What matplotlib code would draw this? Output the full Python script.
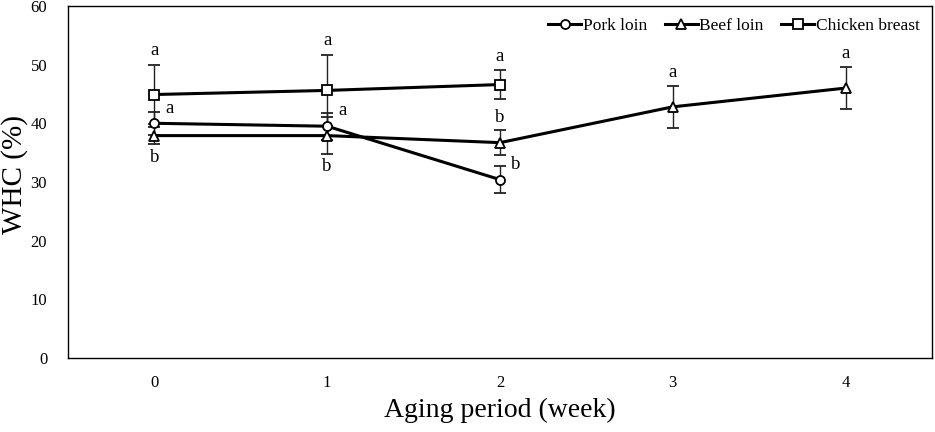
import numpy as np
import matplotlib.pyplot as plt
from matplotlib.lines import Line2D

plt.rcParams["font.family"] = "Liberation Serif"

weeks_pork = [0, 1, 2]
pork = [40.0, 39.5, 30.4]
pork_sd = [2.0, 2.3, 2.3]
pork_letters = ["a", "a", "b"]

weeks_beef = [0, 1, 2, 3, 4]
beef = [37.9, 37.9, 36.7, 42.8, 46.0]
beef_sd = [1.5, 3.1, 2.1, 3.6, 3.6]
beef_letters = ["b", "b", "b", "a", "a"]

weeks_chicken = [0, 1, 2]
chicken = [44.9, 45.6, 46.6]
chicken_sd = [5.0, 6.1, 2.4]
chicken_letters = ["a", "a", "a"]

fig = plt.figure(figsize=(9.35, 4.32), dpi=100)
ax = fig.add_axes([0.0727, 0.1713, 0.924, 0.815])

mkw = dict(color="black", linewidth=2.2, markerfacecolor="white", markeredgecolor="black",
           markeredgewidth=1.3, markersize=6.5)
ekw = dict(ecolor="#222222", elinewidth=1.0, capsize=4, capthick=1.0)
ax.errorbar(weeks_pork, pork, yerr=pork_sd, marker="o", **mkw, **ekw)
ax.errorbar(weeks_beef, beef, yerr=beef_sd, marker="^", **mkw, **ekw)
ax.errorbar(weeks_chicken, chicken, yerr=chicken_sd, marker="s", **mkw, **ekw)

# significance letters
fs = 13.5
for x, y, s, l in zip(weeks_chicken, chicken, chicken_sd, chicken_letters):
    ax.text(x, y + s + 1.0, l, ha="center", va="bottom", fontsize=fs)
for x, y, l in zip(weeks_pork, pork, pork_letters):
    ax.text(x + 0.09, y + 2.6, l, ha="center", va="center", fontsize=fs)
for x, y, s, l in zip(weeks_beef, beef, beef_sd, beef_letters):
    if x < 2:
        ax.text(x, y - s - 0.8, l, ha="center", va="top", fontsize=fs)
    else:
        ax.text(x, y + s + 0.8, l, ha="center", va="bottom", fontsize=fs)

ax.set_xlim(-0.5, 4.5)
ax.set_ylim(0, 60)
ax.set_xticks([0, 1, 2, 3, 4])
ax.set_yticks(np.arange(0, 61, 10))
ax.tick_params(length=0, labelsize=12)
ax.tick_params(axis="x", pad=12)
ax.tick_params(axis="y", pad=15)
for sp in ax.spines.values():
    sp.set_linewidth(1.0)
ax.set_xlabel("Aging period (week)", fontsize=20, labelpad=5)
ax.set_ylabel("WHC (%)", fontsize=21)
ax.yaxis.set_label_coords(-0.046, 0.52)

handles = [Line2D([], [], marker=m, **mkw) for m in ["o", "^", "s"]]
ax.legend(handles, ["Pork loin", "Beef loin", "Chicken breast"], loc="upper right", ncol=3,
          frameon=False, fontsize=12.5, handlelength=1.9, handletextpad=0.1,
          columnspacing=1.0, borderaxespad=0.3)

fig.savefig("out.png", dpi=100)
